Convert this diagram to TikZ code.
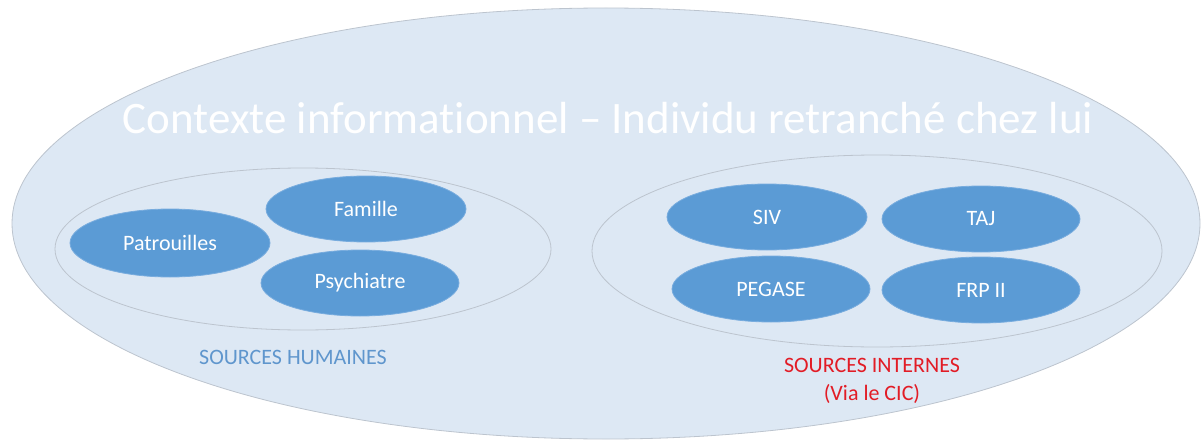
\documentclass[tikz,border=0pt]{standalone}
\usepackage{fontspec}
\setmainfont{Carlito}[Ligatures=NoCommon]
\usetikzlibrary{shapes.geometric,shadows}
\definecolor{outerfill}{RGB}{221,232,244}
\definecolor{outerline}{RGB}{188,196,206}
\definecolor{innerfill}{RGB}{91,155,213}
\definecolor{innerline}{RGB}{120,172,222}
\definecolor{humblue}{RGB}{95,150,205}
\definecolor{intred}{RGB}{226,28,38}
\tikzset{
  outerbox/.style={ellipse, draw=outerline, line width=0.8pt, fill=outerfill, inner sep=0pt},
  groupbox/.style={ellipse, draw=outerline, line width=0.8pt, fill=outerfill, inner sep=0pt},
  srcbox/.style={ellipse, draw=innerline, line width=0.8pt, fill=innerfill, inner sep=0pt,
    minimum width=198pt, minimum height=66pt, text=white, font=\fontsize{22}{26}\selectfont},
  titletext/.style={text=white, font=\fontsize{45}{50}\selectfont, inner sep=0pt, anchor=base},
  lbltext/.style={font=\fontsize{22}{28}\selectfont, align=center, inner sep=0pt}
}
\begin{document}
\begin{tikzpicture}[x=1pt,y=-1pt]
\useasboundingbox (0,0) rectangle (1201,441);
\node[outerbox, minimum width=1188pt, minimum height=431pt] (outer) at (606,223.5) {};
\node[titletext] (title) at (608,134) {Contexte informationnel – Individu retranché chez lui};
% human sources
\node[groupbox, minimum width=496pt, minimum height=162pt] (gh) at (303,249) {};
\node[srcbox, minimum width=200pt, minimum height=68pt] (pat) at (170,243) {Patrouilles};
\node[srcbox, minimum width=200pt] (fam) at (366,209) {Famille};
\node[srcbox] (psy) at (360,283) {Psychiatre};
\node[lbltext, text=humblue] (lblh) at (293,357) {SOURCES HUMAINES};
% internal sources
\node[groupbox, minimum width=570pt, minimum height=192pt] (gi) at (877,251) {};
\node[srcbox, minimum width=200pt] (siv) at (767,217) {SIV};
\node[srcbox] (taj) at (981,219) {TAJ};
\node[srcbox] (peg) at (771,289) {PEGASE};
\node[srcbox] (frp) at (981,290) {FRP II};
\node[lbltext, text=intred] (lbli) at (872,381) {SOURCES INTERNES\\(Via le CIC)};
\end{tikzpicture}
\end{document}
